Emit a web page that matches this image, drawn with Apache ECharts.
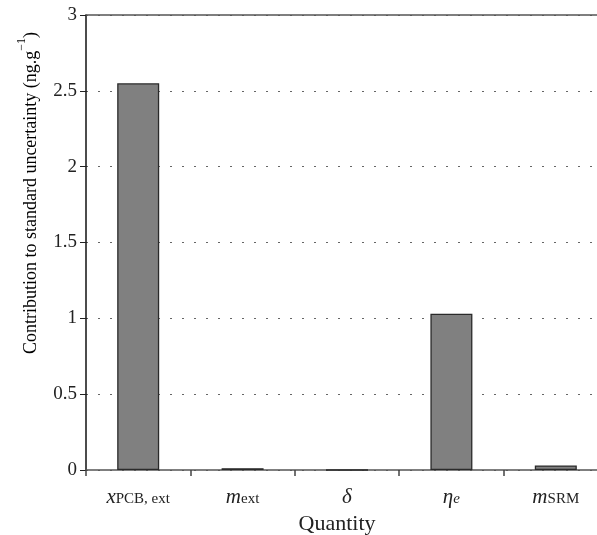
<!DOCTYPE html>
<html>
<head>
<meta charset="utf-8">
<script src="https://cdn.jsdelivr.net/npm/echarts@6/dist/echarts.min.js"></script>
<style>
html,body{margin:0;padding:0;background:#fff;}
#chart{width:597px;height:535px;}
</style>
</head>
<body>
<div id="chart"></div>
<script>
var categories = ['x_PCB,ext', 'm_ext', 'delta', 'eta_e', 'm_SRM'];
var categoryLabels = {
  'x_PCB,ext': '{i|x}{s|PCB, ext}',
  'm_ext': '{i|m}{s|ext}',
  'delta': '{i|δ}',
  'eta_e': '{i|η}{si|e}',
  'm_SRM': '{i|m}{s|SRM}'
};
var values = [2.55, 0.012, 0, 1.03, 0.03];
var yTicks = { min: 0, max: 3, interval: 0.5 };
var xTitle = 'Quantity';
var yTitle = '{a|Contribution to standard uncertainty (ng.g}{sup|−1}{a|)}';

var FONT = '"Liberation Serif", "DejaVu Serif", serif';
var chart = echarts.init(document.getElementById('chart'), null, {renderer: 'canvas'});
chart.setOption({
  animation: false,
  backgroundColor: '#fff',
  grid: { left: 86, top: 15, width: 522, height: 455, containLabel: false, outerBoundsMode: 'none' },
  xAxis: [{
    type: 'category',
    data: categories,
    boundaryGap: true,
    axisLine: { show: true, lineStyle: { color: '#555', width: 1.5 } },
    axisTick: { show: true, length: 6, alignWithLabel: false, lineStyle: { color: '#444', width: 1.5 } },
    axisLabel: {
      margin: 17,
      interval: 0,
      formatter: function (v) { return categoryLabels[v]; },
      rich: {
        i: { fontFamily: FONT, fontSize: 21, fontStyle: 'italic', color: '#222', lineHeight: 20 },
        s: { fontFamily: FONT, fontSize: 15, color: '#222', lineHeight: 14, verticalAlign: 'bottom' },
        si: { fontFamily: FONT, fontSize: 15, fontStyle: 'italic', color: '#222', lineHeight: 14, verticalAlign: 'bottom' }
      }
    },
    splitLine: { show: false }
  }, {
    type: 'category',
    data: categories,
    position: 'top',
    axisLine: { show: true, lineStyle: { color: '#555', width: 1.5 } },
    axisTick: { show: false },
    axisLabel: { show: false },
    splitLine: { show: false }
  }],
  yAxis: {
    type: 'value',
    min: yTicks.min,
    max: yTicks.max,
    interval: yTicks.interval,
    axisLine: { show: true, lineStyle: { color: '#111', width: 1.5 } },
    axisTick: { show: true, length: 6, inside: false, lineStyle: { color: '#222', width: 1 } },
    axisLabel: {
      margin: 9,
      fontFamily: FONT,
      fontSize: 19,
      color: '#222',
      formatter: function (v) { return String(v); }
    },
    splitLine: { show: true, lineStyle: { color: '#666', width: 1.2, type: [2, 10] } }
  },
  series: [{
    type: 'bar',
    data: values,
    barWidth: 42,
    itemStyle: { color: '#808080', borderColor: '#2a2a2a', borderWidth: 1.3 }
  }],
  graphic: [{
    type: 'text',
    x: 28,
    y: 193,
    rotation: Math.PI / 2,
    style: {
      text: yTitle,
      align: 'center',
      verticalAlign: 'middle',
      rich: {
        a: { fontFamily: FONT, fontSize: 18, color: '#222', lineHeight: 24, verticalAlign: 'bottom' },
        sup: { fontFamily: FONT, fontSize: 12, color: '#222', lineHeight: 24, verticalAlign: 'top' }
      }
    }
  }, {
    type: 'text',
    x: 337,
    y: 524,
    style: {
      text: xTitle,
      align: 'center',
      verticalAlign: 'middle',
      fontFamily: FONT,
      fontSize: 22,
      fill: '#222'
    }
  }]
});
</script>
</body>
</html>
